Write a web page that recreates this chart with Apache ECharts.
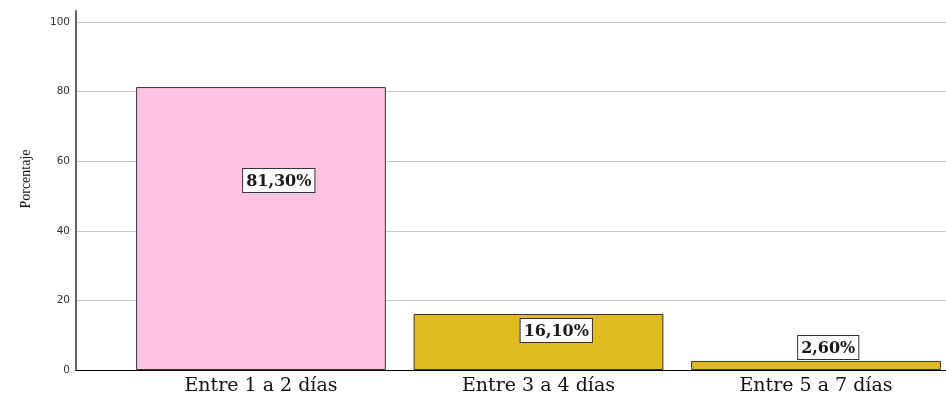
<!DOCTYPE html>
<html>
<head>
<meta charset="utf-8">
<script src="https://cdn.jsdelivr.net/npm/echarts@6/dist/echarts.min.js"></script>
<style>
  html, body { margin: 0; padding: 0; background: #fff; }
  #chart { width: 946px; height: 393px; }
</style>
</head>
<body>
<div id="chart"></div>
<script>
// Days per week category and share of respondents (%)
const categories = ['Entre 1 a 2 días', 'Entre 3 a 4 días', 'Entre 5 a 7 días'];
const percentages = [81.3, 16.1, 2.6];
const yTicks = [0, 20, 40, 60, 80, 100];

const barColors = ['#FEC3E1', '#E0BB1F', '#E0BB1F'];
// where each value box sits relative to its bar's top-left corner
const labelSpots = [[107, 82], [107, 5], [107, -25]];

const chart = echarts.init(document.getElementById('chart'));

const fmt = v => v.toFixed(2).replace('.', ',') + '%';

chart.setOption({
  animation: false,
  grid: [
    // gridlines, tick labels and the baseline
    { left: 76, right: 0, top: 22, bottom: 23, outerBoundsMode: 'none', containLabel: false },
    // tall vertical axis line
    { left: 76, width: 1, top: 11, bottom: 23, outerBoundsMode: 'none', containLabel: false },
    // bars
    { left: 122.25, right: -8.75, top: 22, bottom: 23, outerBoundsMode: 'none', containLabel: false }
  ],
  xAxis: [
    {
      gridIndex: 0, type: 'category', data: [''],
      axisLine: { show: true, onZero: false, lineStyle: { color: '#000', width: 1 } },
      axisTick: { show: false }, axisLabel: { show: false }, splitLine: { show: false }
    },
    {
      gridIndex: 1, type: 'category', data: [''], show: false
    },
    {
      gridIndex: 2, type: 'category', data: categories,
      axisLine: { show: false }, axisTick: { show: false },
      axisLabel: {
        margin: 7, color: '#111',
        fontFamily: 'DejaVu Serif', fontSize: 19
      }
    }
  ],
  yAxis: [
    {
      gridIndex: 0, type: 'value', min: yTicks[0], max: yTicks[yTicks.length - 1], interval: 20,
      name: 'Porcentaje', nameLocation: 'middle', nameGap: 43, nameRotate: 90,
      nameTextStyle: { fontFamily: 'Liberation Serif', fontSize: 14, color: '#111', padding: [0, 0, 0, 34] },
      axisLine: { show: false }, axisTick: { show: false },
      axisLabel: { margin: 6, color: '#333', fontFamily: 'DejaVu Sans', fontSize: 10.5 },
      splitLine: { show: true, lineStyle: { color: '#c8c8c8', width: 1 } }
    },
    {
      gridIndex: 1, type: 'value', min: 0, max: 1,
      axisLine: { show: true, lineStyle: { color: '#666', width: 2 } },
      axisTick: { show: false }, axisLabel: { show: false }, splitLine: { show: false }
    },
    {
      gridIndex: 2, type: 'value', min: 0, max: 100, show: false
    }
  ],
  series: [{
    type: 'bar',
    xAxisIndex: 2, yAxisIndex: 2,
    barCategoryGap: '10%',
    data: percentages.map((v, i) => ({
      value: v,
      itemStyle: { color: barColors[i], borderColor: '#333', borderWidth: 1 },
      label: { position: labelSpots[i] }
    })),
    label: {
      show: true,
      formatter: p => fmt(p.value),
      align: 'left', verticalAlign: 'top',
      fontFamily: 'DejaVu Serif', fontWeight: 'bold', fontSize: 16, color: '#1a1a1a',
      backgroundColor: '#fff', borderColor: '#333', borderWidth: 1,
      padding: [5, 3, 2, 3]
    }
  }]
});
</script>
</body>
</html>
